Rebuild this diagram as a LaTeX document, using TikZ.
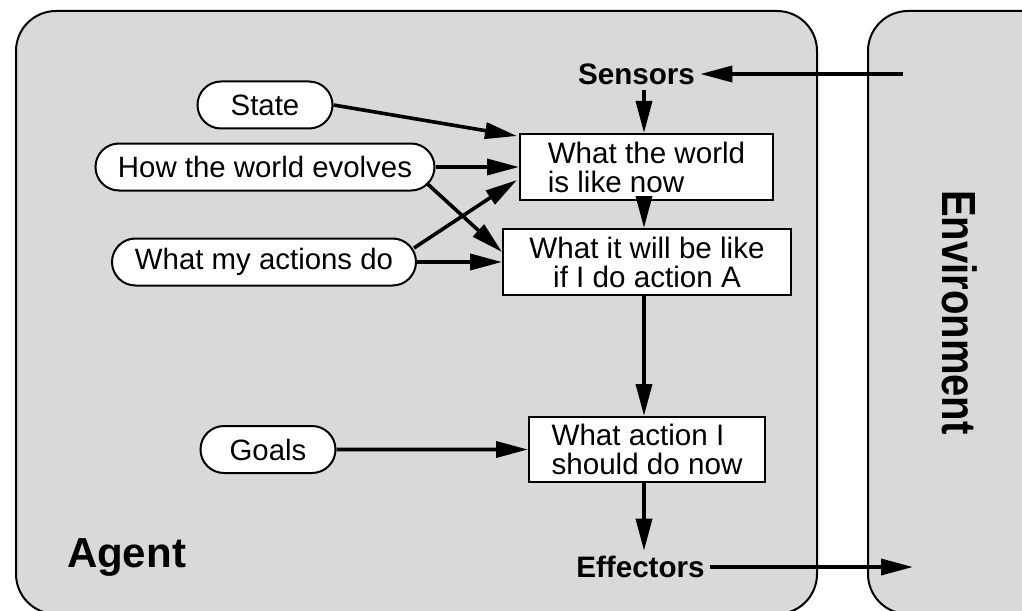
\documentclass[tikz,border=0pt]{standalone}
\usepackage{fontspec}
\setmainfont{Liberation Sans}
\usetikzlibrary{arrows.meta,shapes.misc,calc}
\definecolor{panelgray}{RGB}{217,217,217}
\begin{document}
\begin{tikzpicture}[x=0.5pt,y=-0.5pt,
  panel/.style={draw=black,line width=1pt,fill=panelgray,rounded corners=20pt},
  pill/.style={rounded rectangle,draw,line width=1pt,fill=white,minimum height=23.5pt,
    inner sep=0pt,font=\fontsize{14.7}{15}\selectfont},
  stepbox/.style={draw,line width=1pt,fill=white,inner sep=0pt,
    font=\fontsize{14.8}{14.5}\selectfont},
  tag/.style={font=\bfseries\fontsize{14.8}{15}\selectfont,inner sep=2.5pt},
  flow/.style={line width=1.8pt,-{Triangle[length=16pt,width=8pt]}}
]
\useasboundingbox (0,0) rectangle (1022,610);
\clip (0,0) rectangle (1022,610);
\fill[white] (0,0) rectangle (1022,610);

% agent and environment panels
\draw[panel] (16,11) rectangle (817,614);
\draw[panel] (868,11) rectangle (1150,614);

% knowledge sources
\node[pill,minimum width=67.5pt] (state) at (265,105) {State};
\node[pill,minimum width=169.5pt] (evolves) at (265,167) {How the world evolves};
\node[pill,minimum width=152pt] (acts) at (264,262) {What my actions do};
\node[pill,minimum width=67.5pt] (goals) at (268,449.5) {Goals};

% reasoning steps
\node[stepbox,minimum width=126.5pt,minimum height=33pt,align=left] (now) at (646.5,167)
  {What the world\\is like now};
\node[stepbox,minimum width=144pt,minimum height=33pt,align=center] (future) at (647,262)
  {What it will be like\\if I do action A};
\node[stepbox,minimum width=118pt,minimum height=32.5pt,align=left] (decide) at (647,449.5)
  {What action I\\should do now};

% labels
\node[tag] (sensors) at (636.5,74) {Sensors};
\node[tag] (effectors) at (640.5,567) {Effectors};
\node[font=\bfseries\fontsize{21}{24}\selectfont,anchor=base] (agent) at (126.5,567) {Agent};
\node[font=\bfseries\fontsize{20}{24}\selectfont,rotate=-90,inner sep=0pt] (env) at (959.5,312.5)
  {\scalebox{1}[1.2]{Environment}};

\coordinate (envin) at (903,74);
\coordinate (envout) at (913,567);
\coordinate (spine) at (644,0);

% percept / action flow
\draw[flow] (envin) -- (sensors);
\draw[flow] (spine |- sensors.south) -- (spine |- now.north);
\draw[flow] (spine |- now.south) -- (spine |- future.north);
\draw[flow] (spine |- future.south) -- (spine |- decide.north);
\draw[flow] (spine |- decide.south) -- (spine |- effectors.north);
\draw[flow] (effectors) -- (envout);

% inputs to the reasoning steps
\draw[flow] (state.east) -- ($(now.north west)+(-2,3)$);
\draw[flow] (evolves.east) -- (evolves.east -| now.west);
\draw[flow] ($(evolves.east)+(-9,16)$) -- ($(future.west)+(0,-10)$);
\draw[flow] ($(acts.east)+(-3,-14)$) -- ($(now.west)+(-2,13)$);
\draw[flow] (acts) -- (future);
\draw[flow] (goals) -- (decide);
\end{tikzpicture}
\end{document}
